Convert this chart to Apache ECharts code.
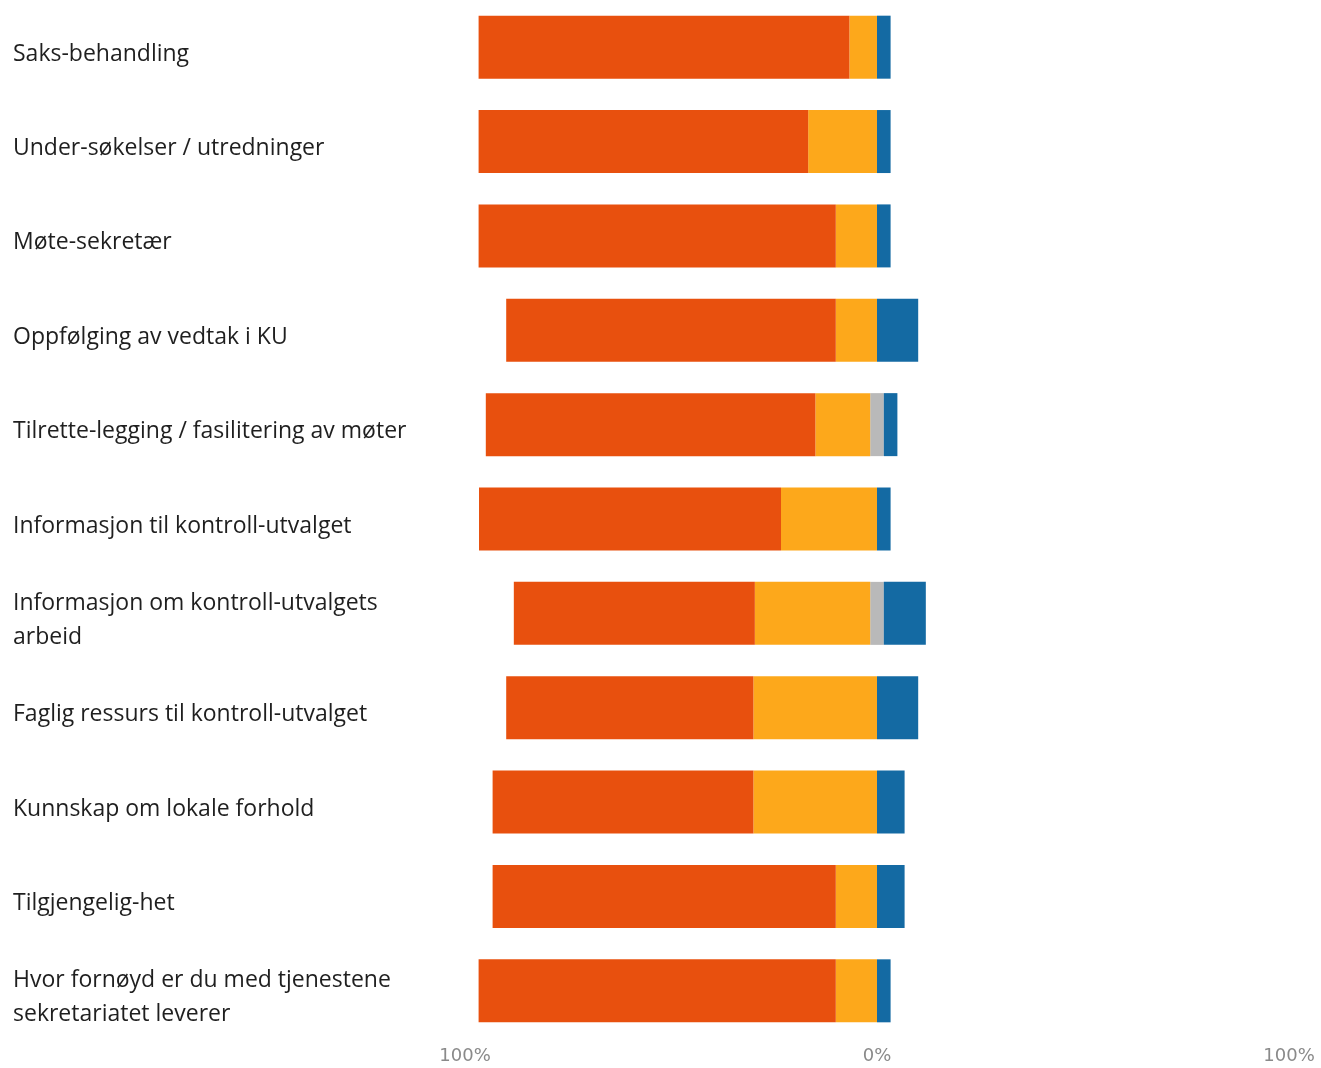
<!DOCTYPE html>
<html>
<head>
<meta charset="utf-8">
<script src="https://cdn.jsdelivr.net/npm/echarts@6/dist/echarts.min.js"></script>
<style>
  html, body { margin: 0; padding: 0; background: #ffffff; }
  #chart { width: 1321px; height: 1068px; }
</style>
</head>
<body>
<div id="chart"></div>
<script>
// Questions, top to bottom
const categories = [
  'Saks-behandling',
  'Under-søkelser / utredninger',
  'Møte-sekretær',
  'Oppfølging av vedtak i KU',
  'Tilrette-legging / fasilitering av møter',
  'Informasjon til kontroll-utvalget',
  'Informasjon om kontroll-utvalgets\narbeid',
  'Faglig ressurs til kontroll-utvalget',
  'Kunnskap om lokale forhold',
  'Tilgjengelig-het',
  'Hvor fornøyd er du med tjenestene\nsekretariatet leverer'
];

// Share of answers per category, in percent
const veryPleased = [90.0, 80.0, 86.7, 80.0, 80.0, 73.3, 58.5, 60.0, 63.3, 83.3, 86.7];
const pleased     = [6.7, 16.7, 10.0, 10.0, 13.3, 23.3, 28.0, 30.0, 30.0, 10.0, 10.0];
const neutral     = [0, 0, 0, 0, 3.3, 0, 3.3, 0, 0, 0, 0];
const displeased  = [3.3, 3.3, 3.3, 10.0, 3.3, 3.3, 10.2, 10.0, 6.7, 6.7, 3.3];

// Axis ticks (signed positions, shown as absolute percent)
const tickValues = [-100, 0, 100];

const COLORS = {
  veryPleased: '#E8500E',
  pleased: '#FDA81B',
  neutral: '#B9B9B9',
  displeased: '#146AA3'
};

const chart = echarts.init(document.getElementById('chart'), null, { renderer: 'canvas' });

const barBase = {
  type: 'bar',
  stack: 'total',
  barWidth: 63,
  silent: true
};

chart.setOption({
  animation: false,
  backgroundColor: '#ffffff',
  grid: { left: 465, right: 32, top: 0, bottom: 30, containLabel: false },
  xAxis: {
    type: 'value',
    min: tickValues[0],
    max: tickValues[tickValues.length - 1],
    interval: 100,
    axisLine: { show: false },
    axisTick: { show: false },
    splitLine: { show: false },
    axisLabel: {
      color: '#8a8a8a',
      fontSize: 18,
      fontFamily: 'DejaVu Sans',
      margin: 9,
      formatter: v => Math.abs(v) + '%'
    }
  },
  yAxis: {
    type: 'category',
    data: categories,
    inverse: true,
    axisLine: { show: false },
    axisTick: { show: false },
    splitLine: { show: false },
    axisLabel: {
      align: 'left',
      margin: 452,
      color: '#1f1f1f',
      fontSize: 23,
      lineHeight: 34,
      fontFamily: 'Open Sans',
      // a thin spacer line on top nudges the question text slightly below the bar centre
      formatter: v => '{gap| }\n' + v.split('\n').map(l => '{t|' + l + '}').join('\n'),
      rich: {
        gap: { fontSize: 1, lineHeight: 14, height: 14 },
        t: { fontSize: 23, lineHeight: 34, color: '#1f1f1f', fontFamily: 'Open Sans' }
      }
    }
  },
  series: [
    // Left side of zero: half of neutral, then pleased, then very pleased
    Object.assign({}, barBase, {
      name: 'Nøytral',
      itemStyle: { color: COLORS.neutral },
      data: neutral.map(v => -v / 2)
    }),
    Object.assign({}, barBase, {
      name: 'Fornøyd',
      itemStyle: { color: COLORS.pleased },
      data: pleased.map(v => -v)
    }),
    Object.assign({}, barBase, {
      name: 'Svært fornøyd',
      itemStyle: { color: COLORS.veryPleased },
      data: veryPleased.map(v => -v)
    }),
    // Right side of zero: other half of neutral, then displeased
    Object.assign({}, barBase, {
      name: 'Nøytral ',
      itemStyle: { color: COLORS.neutral },
      data: neutral.map(v => v / 2)
    }),
    Object.assign({}, barBase, {
      name: 'Misfornøyd',
      itemStyle: { color: COLORS.displeased },
      data: displeased
    })
  ]
});
</script>
</body>
</html>
